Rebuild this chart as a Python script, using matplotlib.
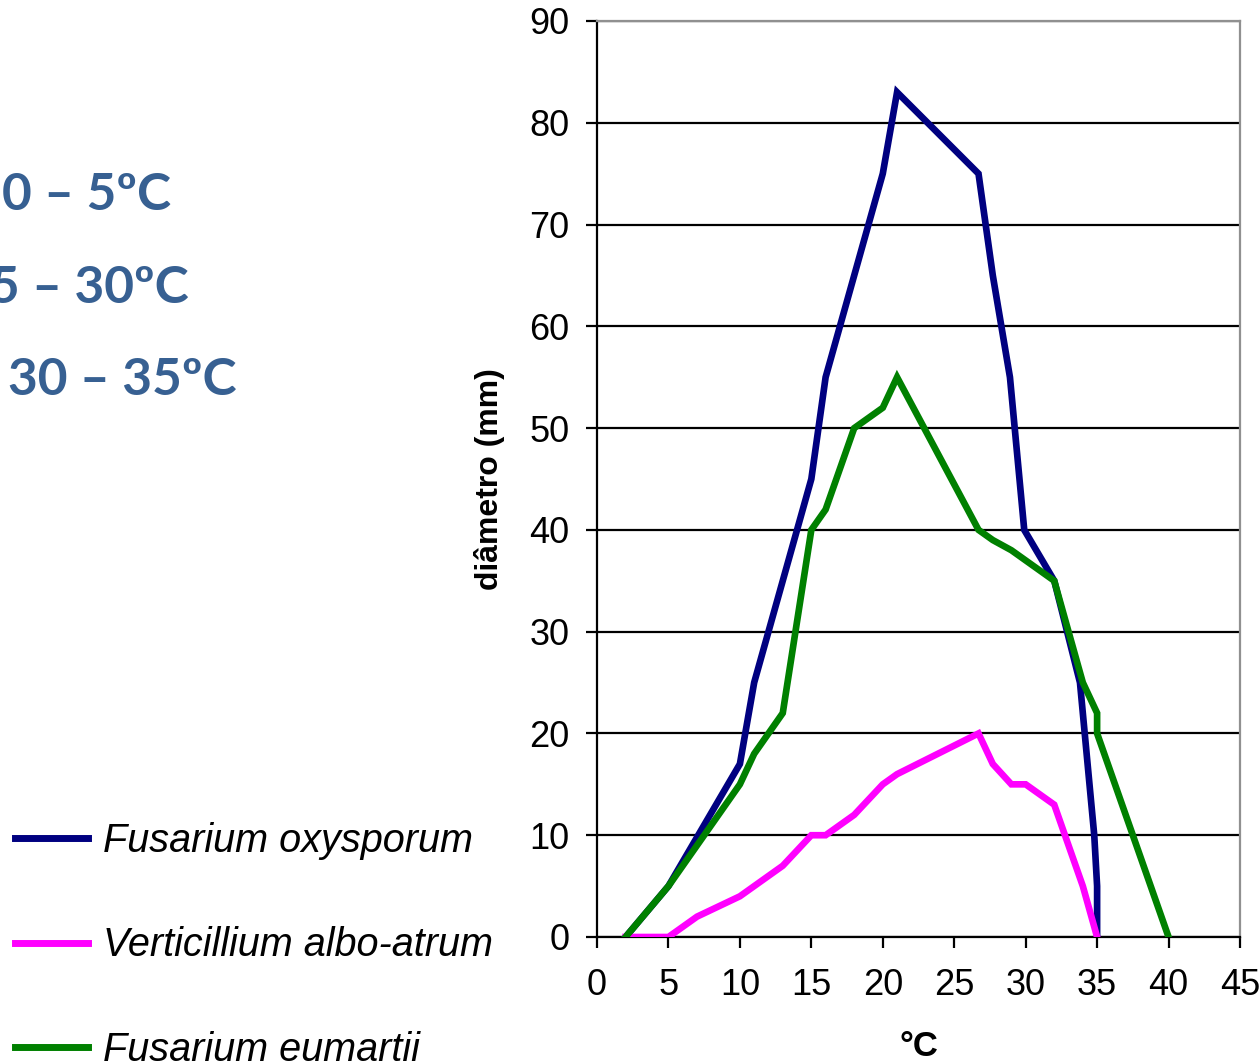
import matplotlib
matplotlib.use("Agg")
import matplotlib.pyplot as plt

# Data
fo_x = [2, 5, 10, 11, 13, 15, 16, 18, 20, 21, 26.7, 27.7, 28.9, 29.9, 32, 33.8, 34.8, 35, 35]
fo_y = [0, 5, 17, 25, 35, 45, 55, 65, 75, 83, 75, 65, 55, 40, 35, 25, 10, 5, 0]

va_x = [2, 5, 7, 10, 11, 13, 15, 16, 18, 20, 21, 26.7, 27.7, 29, 30, 32, 34, 35]
va_y = [0, 0, 2, 4, 5, 7, 10, 10, 12, 15, 16, 20, 17, 15, 15, 13, 5, 0]

fe_x = [2, 5, 7, 10, 11, 13, 15, 16, 18, 20, 21, 26.7, 27.7, 29, 30, 32, 34, 35, 35, 40]
fe_y = [0, 5, 9, 15, 18, 22, 40, 42, 50, 52, 55, 40, 39, 38, 37, 35, 25, 22, 20, 0]

labels = ["Fusarium oxysporum", "Verticillium albo-atrum", "Fusarium eumartii"]
colors = ["#000080", "#FF00FF", "#008000"]
side_texts = ["0 – 5ºC", "25 – 30ºC", "30 – 35ºC"]

W, H = 1260, 1061
fig = plt.figure(figsize=(W / 100, H / 100), dpi=100)
ax = fig.add_axes([597 / W, 1 - 937 / H, (1240 - 597) / W, (937 - 21) / H])

lw = 4.8
l1, = ax.plot(fo_x, fo_y, color=colors[0], lw=lw, solid_joinstyle="miter", label=labels[0], zorder=3)
l2, = ax.plot(va_x, va_y, color=colors[1], lw=lw, solid_joinstyle="miter", label=labels[1], zorder=3)
l3, = ax.plot(fe_x, fe_y, color=colors[2], lw=lw, solid_joinstyle="miter", label=labels[2], zorder=3)

ax.set_xlim(0, 45)
ax.set_ylim(0, 90)
ax.set_xticks(range(0, 46, 5))
ax.set_yticks(range(0, 91, 10))
ax.yaxis.grid(True, color="black", lw=1.6, zorder=1)
ax.set_axisbelow(True)
for s in ["left", "bottom"]:
    ax.spines[s].set_color("black")
    ax.spines[s].set_linewidth(1.6)
for s in ["top", "right"]:
    ax.spines[s].set_color("#909090")
    ax.spines[s].set_linewidth(1.6)
ax.tick_params(axis="both", direction="out", length=8, width=1.6, labelsize=26, color="black")
ax.tick_params(axis="y", pad=12)
ax.tick_params(axis="x", pad=14)
ax.set_xlabel("°C", fontsize=25, fontweight="bold", labelpad=20)
ax.set_ylabel("diâmetro (mm)", fontsize=23, fontweight="bold", labelpad=17)

for lab in ax.get_xticklabels() + ax.get_yticklabels():
    lab.set_family(["Liberation Sans", "DejaVu Sans"])
ax.xaxis.label.set_family(["Liberation Sans", "DejaVu Sans"])
ax.yaxis.label.set_family(["Liberation Sans", "DejaVu Sans"])

leg = fig.legend(handles=[l1, l2, l3], loc="upper left",
                 bbox_to_anchor=(15 / W, 1 - 822 / H), frameon=False,
                 prop={"family": ["Liberation Sans", "DejaVu Sans"], "style": "italic", "size": 28.5},
                 handlelength=1.85, handletextpad=0.38, labelspacing=1.68,
                 borderpad=0, borderaxespad=0)
for h in leg.legend_handles:
    h.set_linewidth(5)

ty = [210, 303, 395]
tx = [2, -40, 8]
for t, x, y in zip(side_texts, tx, ty):
    fig.text(x / W, 1 - y / H, t, fontsize=37, fontweight="bold", color="#376092",
             family=["Lato", "DejaVu Sans"], ha="left", va="baseline")

fig.savefig("out.png", dpi=100)
